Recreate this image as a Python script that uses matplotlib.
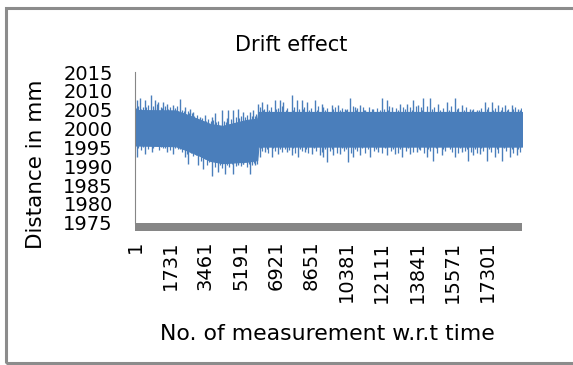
import matplotlib
matplotlib.use("Agg")
import matplotlib.pyplot as plt
from matplotlib.patches import Rectangle

# number of measurements (categories on the x axis)
n_points = 19000

# solid core of the band
band_idx = [1, 2000, 2500, 3200, 3700, 4300, 4900, 5500, 6000, 6060, 19000]
band_upper = [2004.9, 2004.8, 2003.8, 2002.3, 2001.2, 2000.7, 2001.5, 2002.3, 2002.6, 2004.4, 2004.4]
band_lower = [1995.5, 1995.3, 1994.3, 1992.7, 1991.4, 1990.8, 1991.0, 1991.2, 1991.6, 1995.2, 1995.2]

# tall spikes sticking out of the band
up_idx = [82, 245, 491, 770, 982, 1145, 1391, 1555, 1882, 2210, 2455, 2700, 2864, 3192, 3437, 3764,
          3928, 4255, 4501, 4583, 4828, 5074, 5319, 5647, 5810, 6056, 6220, 6465, 6874, 7120, 7283,
          7693, 7938, 8184, 8430, 8838, 9166, 9247, 9656, 9984, 10311, 10557, 10802, 11048, 11293,
          11702, 12111, 12357, 12602, 13012, 13339, 13666, 13912, 14157, 14484, 14894, 15303, 15712,
          16039, 16449, 16776, 17185, 17513, 17840, 18168, 18495, 18822]
up_val = [2007.5, 2008.0, 2007.5, 2008.9, 2007.5, 2007.1, 2007.1, 2006.6, 2006.2, 2007.8, 2005.8,
          2005.3, 2004.4, 2003.1, 2003.5, 2003.1, 2004.0, 2004.9, 2002.7, 2004.9, 2004.9, 2005.3,
          2004.4, 2004.4, 2004.9, 2006.6, 2007.1, 2006.6, 2007.5, 2007.5, 2007.1, 2008.9, 2007.5,
          2007.5, 2007.1, 2007.5, 2006.6, 2005.8, 2006.2, 2006.2, 2005.3, 2008.0, 2005.8, 2006.2,
          2004.9, 2005.3, 2008.0, 2007.5, 2005.8, 2006.6, 2006.6, 2007.5, 2006.2, 2008.0, 2008.0,
          2006.6, 2007.1, 2008.0, 2006.2, 2005.3, 2004.9, 2007.1, 2007.1, 2006.2, 2006.2, 2006.2,
          2005.3]

down_idx = [82, 491, 818, 1555, 1882, 2455, 2618, 3110, 3355, 3764, 4092, 4419, 4828, 5074, 5319,
            5647, 5892, 6138, 6383, 6711, 7038, 7447, 7693, 8020, 8348, 8675, 9084, 9247, 9411,
            9738, 10066, 10475, 10721, 11048, 11539, 11948, 12357, 12766, 13094, 13503, 13830,
            14320, 14648, 15057, 15712, 16039, 16366, 16612, 16939, 17267, 17676, 18004, 18413,
            18740]
down_val = [1992.4, 1993.3, 1993.8, 1993.8, 1993.3, 1992.4, 1990.7, 1990.2, 1989.3, 1987.5, 1988.4,
            1988.0, 1988.0, 1990.2, 1990.7, 1988.0, 1990.2, 1992.4, 1993.8, 1992.4, 1993.3, 1993.8,
            1992.9, 1992.4, 1993.8, 1993.3, 1992.9, 1992.4, 1991.1, 1992.9, 1993.3, 1991.1, 1992.4,
            1992.9, 1992.4, 1993.8, 1992.9, 1993.3, 1992.4, 1993.3, 1993.8, 1992.4, 1991.5, 1992.9,
            1992.4, 1993.8, 1991.5, 1992.9, 1993.3, 1991.5, 1992.4, 1991.5, 1992.4, 1992.9]

# shorter spikes that make the rough edge of the band
up_mid_idx = [160, 370, 630, 880, 1060, 1270, 1470, 1720, 2050, 2330, 2580, 2780, 3030, 3310, 3600,
              3850, 4090, 4380, 4700, 4950, 5200, 5480, 5730, 5930, 6140, 6340, 6670, 7000, 7200,
              7480, 7810, 8060, 8300, 8630, 9000, 9450, 9820, 10150, 10430, 10680, 10920, 11170,
              11500, 11900, 12230, 12480, 12800, 13180, 13500, 13790, 14040, 14320, 14690, 15100,
              15500, 15880, 16240, 16610, 16980, 17350, 17680, 18000, 18330, 18660, 18950]
up_mid_val = [2006.0, 2005.8, 2006.3, 2005.9, 2006.4, 2005.7, 2006.1, 2005.6, 2005.9, 2005.0, 2004.7,
              2004.2, 2003.6, 2002.9, 2002.5, 2002.3, 2002.0, 2001.9, 2002.6, 2003.0, 2003.2, 2003.6,
              2003.4, 2003.8, 2005.6, 2005.3, 2005.8, 2005.4, 2005.9, 2005.5, 2005.7, 2005.3, 2005.8,
              2005.5, 2005.9, 2005.4, 2005.7, 2005.5, 2005.3, 2005.9, 2005.4, 2005.6, 2005.8, 2005.5,
              2005.3, 2005.9, 2005.5, 2005.8, 2005.6, 2006.0, 2005.7, 2006.1, 2005.8, 2005.5, 2005.9,
              2005.4, 2005.6, 2005.2, 2005.5, 2005.8, 2005.4, 2005.7, 2005.3, 2005.6, 2005.4]

down_mid_idx = [280, 650, 1180, 1380, 1720, 2100, 2300, 2540, 2860, 3230, 3550, 3920, 4250, 4620,
                4950, 5200, 5480, 5760, 5980, 6260, 6550, 6860, 7240, 7560, 7850, 8180, 8510, 8880,
                9160, 9570, 9900, 10270, 10600, 10900, 11290, 11750, 12150, 12560, 12930, 13300,
                13660, 14000, 14200, 14480, 14850, 15220, 15550, 15880, 16200, 16490, 16780, 17100,
                17470, 17840, 18200, 18580, 18900]
down_mid_val = [1994.3, 1994.6, 1994.2, 1994.7, 1994.4, 1994.5, 1993.7, 1993.2, 1992.6, 1991.4,
                1990.4, 1989.8, 1989.6, 1989.9, 1990.0, 1990.1, 1989.7, 1990.3, 1990.6, 1994.0,
                1993.6, 1994.1, 1993.7, 1994.2, 1993.6, 1994.0, 1993.5, 1994.1, 1993.7, 1993.9,
                1993.4, 1994.0, 1993.6, 1994.1, 1993.5, 1993.9, 1993.6, 1994.0, 1993.5, 1993.9,
                1993.7, 1994.2, 1993.6, 1993.9, 1993.5, 1994.0, 1993.7, 1993.5, 1994.0, 1993.8,
                1993.4, 1993.9, 1993.7, 1993.5, 1993.9, 1993.6, 1993.8]

# smallest ripples along both edges
up_low_idx = [40, 310, 560, 1000, 1330, 1610, 1960, 2390, 2650, 2920, 3480, 3710, 4000, 4450, 4790,
              5120, 5400, 5870, 6300, 6590, 6940, 7400, 7740, 8250, 8540, 8920, 9340, 9730, 10060,
              10380, 10860, 11240, 11620, 12010, 12420, 12900, 13250, 13580, 14080, 14580, 14990,
              15400, 15800, 16150, 16540, 16900, 17280, 17600, 17950, 18260, 18580, 18900]
up_low_val = [2005.5, 2005.3, 2005.6, 2005.4, 2005.5, 2005.2, 2005.4, 2004.6, 2004.2, 2003.4,
              2002.1, 2001.9, 2001.6, 2001.8, 2002.3, 2002.7, 2003.0, 2003.3, 2005.0, 2004.9,
              2005.1, 2004.8, 2005.0, 2005.1, 2004.9, 2005.0, 2004.8, 2005.1, 2004.9, 2005.0,
              2004.8, 2005.0, 2005.1, 2004.9, 2005.0, 2004.8, 2005.1, 2004.9, 2005.0, 2005.2,
              2004.9, 2005.0, 2005.1, 2004.8, 2005.0, 2004.9, 2005.1, 2004.8, 2005.0, 2004.9,
              2005.1, 2004.9]
down_low_idx = [150, 400, 900, 1260, 1480, 1980, 2200, 2740, 3000, 3440, 3650, 4170, 4520, 4740,
                5300, 5580, 5820, 6190, 6460, 6790, 7120, 7350, 7780, 8100, 8420, 8780, 9320,
                9650, 10150, 10380, 10820, 11150, 11420, 11850, 12250, 12660, 13000, 13400, 13940,
                14400, 14760, 15130, 15450, 15980, 16300, 16700, 17000, 17380, 17750, 18100, 18500,
                18820]
down_low_val = [1994.9, 1995.0, 1994.8, 1995.0, 1994.9, 1994.8, 1994.6, 1993.6, 1993.0, 1991.9,
                1991.1, 1990.4, 1990.3, 1990.5, 1990.6, 1990.5, 1990.9, 1994.7, 1994.6, 1994.7,
                1994.5, 1994.6, 1994.7, 1994.5, 1994.6, 1994.7, 1994.5, 1994.6, 1994.7, 1994.5,
                1994.6, 1994.7, 1994.5, 1994.6, 1994.7, 1994.5, 1994.6, 1994.7, 1994.5, 1994.6,
                1994.7, 1994.5, 1994.6, 1994.7, 1994.5, 1994.6, 1994.7, 1994.5, 1994.6, 1994.7,
                1994.5, 1994.6]

y_ticks = [1975, 1980, 1985, 1990, 1995, 2000, 2005, 2010, 2015]
x_ticks = [1, 1731, 3461, 5191, 6921, 8651, 10381, 12111, 13841, 15571, 17301]

blue = "#4a7ebb"
grey = "#868686"
plt.rcParams["font.family"] = ["DejaVu Sans"]

fig = plt.figure(figsize=(5.73, 3.65), dpi=100)
ax = fig.add_axes([0.2356, 0.3899, 0.6754, 0.4128])

ax.fill_between(band_idx, band_lower, band_upper, color=blue, lw=0.8, edgecolor=blue)
ax.vlines(up_low_idx, 2000, up_low_val, color=blue, lw=0.9)
ax.vlines(down_low_idx, 2000, down_low_val, color=blue, lw=0.9)
ax.vlines(up_mid_idx, 2000, up_mid_val, color=blue, lw=0.9)
ax.vlines(down_mid_idx, 2000, down_mid_val, color=blue, lw=0.9)
ax.vlines(up_idx, 2000, up_val, color=blue, lw=1.0)
ax.vlines(down_idx, 2000, down_val, color=blue, lw=1.0)

ax.set_xlim(0.5, n_points + 0.5)
ax.set_ylim(1975, 2015)
ax.set_yticks(y_ticks)
ax.set_yticklabels([str(v) for v in y_ticks], fontsize=14)
ax.set_xticks(x_ticks)
ax.set_xticklabels([str(v) for v in x_ticks], fontsize=14)
for lab in ax.get_xticklabels():
    lab.set_rotation(90)
    lab.set_rotation_mode("anchor")
    lab.set_ha("right")
    lab.set_va("center")
ax.tick_params(axis="y", length=0, pad=16)
ax.tick_params(axis="x", length=0, pad=13)

for s in ["top", "right", "bottom"]:
    ax.spines[s].set_visible(False)
ax.spines["left"].set_color(grey)
ax.spines["left"].set_linewidth(0.8)

# thick grey floor under the plot
ax.add_patch(Rectangle((0, -0.053), 1, 0.053, transform=ax.transAxes,
                       facecolor=grey, edgecolor="none", clip_on=False))

fig.text(0.508, 0.877, "Drift effect", fontsize=15, ha="center", va="center")
fig.text(0.0620, 0.551, "Distance in mm", fontsize=15.5, rotation=90, ha="center", va="center")
fig.text(0.571, 0.0850, "No. of measurement w.r.t time", fontsize=15.8, ha="center", va="center")

# chart border (runs off the right edge)
fig.patches.append(Rectangle((0.0105, 0.0055), 1.2, 0.9725, transform=fig.transFigure,
                             facecolor="none", edgecolor="#8c8c8c", lw=2.2))

fig.savefig("out.png", dpi=100)
